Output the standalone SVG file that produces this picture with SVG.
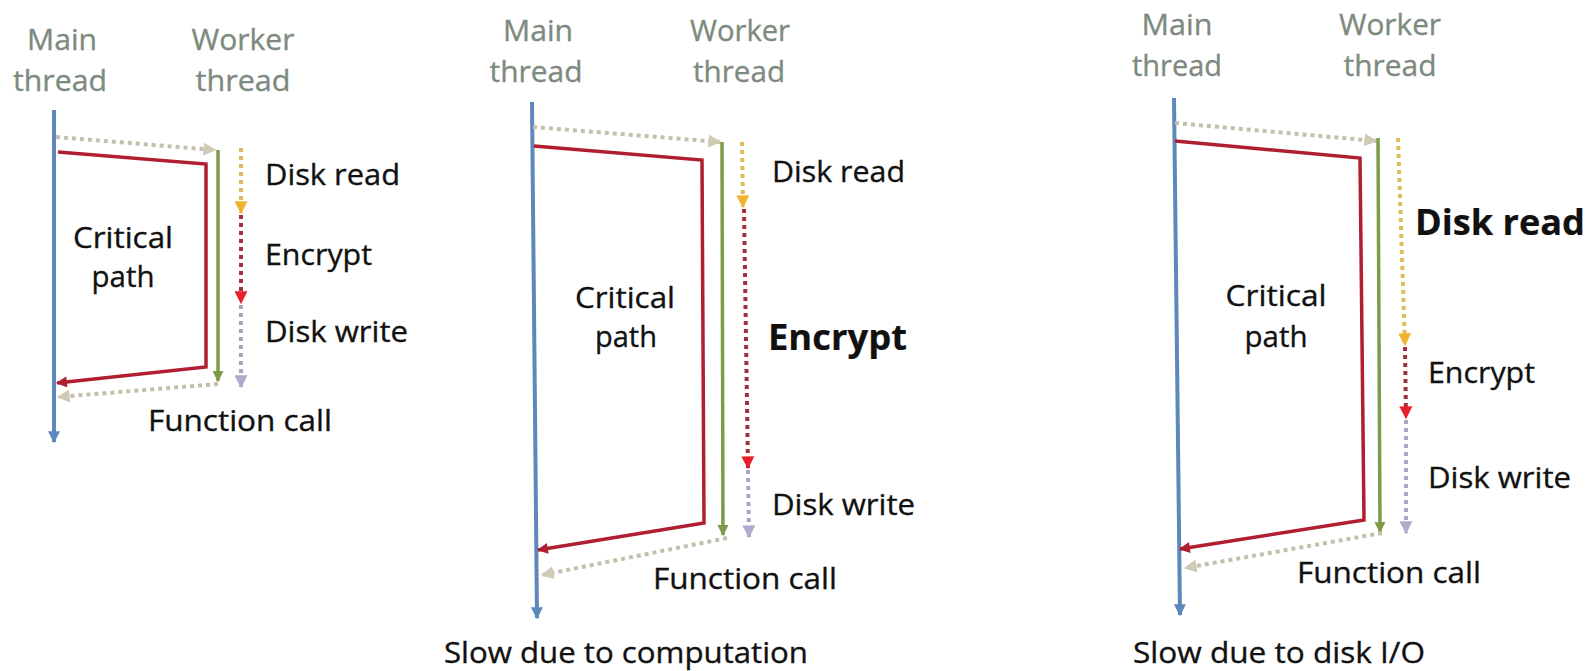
<svg xmlns="http://www.w3.org/2000/svg" width="1589" height="671" viewBox="0 0 1589 671">
<style>
  text { font-family: "Open Sans", "Liberation Sans", sans-serif; font-size: 30px; fill: #111; stroke: #111; stroke-width: 0.35; }
  .hdr { fill: #7d8a7e; stroke: #7d8a7e; text-anchor: middle; }
  .mid { text-anchor: middle; }
  .big { font-weight: bold; font-size: 35px; stroke-width: 0.2; }
  .main { fill: none; stroke: #5d87bd; stroke-width: 4; }
  .crit { fill: none; stroke: #b01e2f; stroke-width: 3.5; stroke-linejoin: miter; }
  .work { fill: none; stroke: #7c9a48; stroke-width: 3.5; }
  .call { fill: none; stroke: #c4bfac; stroke-width: 4; stroke-dasharray: 4 4; }
  .rd { fill: none; stroke: #e0ba5c; stroke-width: 4; stroke-dasharray: 4 4; }
  .enc { fill: none; stroke: #a52e3e; stroke-width: 4; stroke-dasharray: 4 4; }
  .wr { fill: none; stroke: #aaa5bf; stroke-width: 4; stroke-dasharray: 4 4; }
</style>
<defs>
  <marker id="aBlue" viewBox="0 0 10 10" refX="9" refY="5" markerUnits="userSpaceOnUse" markerWidth="13" markerHeight="12" orient="auto"><path d="M0,0 L10,5 L0,10 z" fill="#5d87bd"/></marker>
  <marker id="aRed" viewBox="0 0 10 10" refX="9" refY="5" markerUnits="userSpaceOnUse" markerWidth="12" markerHeight="11" orient="auto"><path d="M0,0 L10,5 L0,10 z" fill="#b01e2f"/></marker>
  <marker id="aGreen" viewBox="0 0 10 10" refX="9" refY="5" markerUnits="userSpaceOnUse" markerWidth="11" markerHeight="11" orient="auto"><path d="M0,0 L10,5 L0,10 z" fill="#7c9a48"/></marker>
  <marker id="aCall" viewBox="0 0 10 10" refX="9" refY="5" markerUnits="userSpaceOnUse" markerWidth="13" markerHeight="13" orient="auto"><path d="M0,0 L10,5 L0,10 z" fill="#cfcab5"/></marker>
  <marker id="aRd" viewBox="0 0 10 10" refX="9" refY="5" markerUnits="userSpaceOnUse" markerWidth="13" markerHeight="13" orient="auto"><path d="M0,0 L10,5 L0,10 z" fill="#f2b330"/></marker>
  <marker id="aEnc" viewBox="0 0 10 10" refX="9" refY="5" markerUnits="userSpaceOnUse" markerWidth="13" markerHeight="13" orient="auto"><path d="M0,0 L10,5 L0,10 z" fill="#e8202c"/></marker>
  <marker id="aWr" viewBox="0 0 10 10" refX="9" refY="5" markerUnits="userSpaceOnUse" markerWidth="13" markerHeight="13" orient="auto"><path d="M0,0 L10,5 L0,10 z" fill="#b5a8cf"/></marker>
</defs>

<!-- Panel 1 -->
<g id="p1-main-thread">
  <text class="hdr" x="62" y="50" textLength="70" lengthAdjust="spacingAndGlyphs">Main</text>
  <text class="hdr" x="60" y="91" textLength="94" lengthAdjust="spacingAndGlyphs">thread</text>
</g>
<g id="p1-worker-thread">
  <text class="hdr" x="243" y="50" textLength="103" lengthAdjust="spacingAndGlyphs">Worker</text>
  <text class="hdr" x="243" y="91" textLength="95" lengthAdjust="spacingAndGlyphs">thread</text>
</g>
<g id="p1-critical-path"><text class="mid" x="123" y="248" textLength="100" lengthAdjust="spacingAndGlyphs">Critical</text><text class="mid" x="123" y="287" textLength="63" lengthAdjust="spacingAndGlyphs">path</text></g>
<g id="p1-disk-read"><text x="265" y="185" textLength="135" lengthAdjust="spacingAndGlyphs">Disk read</text></g>
<g id="p1-encrypt"><text x="265" y="265" textLength="107" lengthAdjust="spacingAndGlyphs">Encrypt</text></g>
<g id="p1-disk-write"><text x="265" y="342" textLength="143" lengthAdjust="spacingAndGlyphs">Disk write</text></g>
<g id="p1-function-call"><text x="148" y="431" textLength="184" lengthAdjust="spacingAndGlyphs">Function call</text></g>

<!-- Panel 2 -->
<g id="p2-main-thread">
  <text class="hdr" x="538" y="41" textLength="70" lengthAdjust="spacingAndGlyphs">Main</text>
  <text class="hdr" x="536" y="82" textLength="93" lengthAdjust="spacingAndGlyphs">thread</text>
</g>
<g id="p2-worker-thread">
  <text class="hdr" x="740" y="41" textLength="100" lengthAdjust="spacingAndGlyphs">Worker</text>
  <text class="hdr" x="739" y="82" textLength="92" lengthAdjust="spacingAndGlyphs">thread</text>
</g>
<g id="p2-critical-path"><text class="mid" x="625" y="308" textLength="100" lengthAdjust="spacingAndGlyphs">Critical</text><text class="mid" x="626" y="347" textLength="62" lengthAdjust="spacingAndGlyphs">path</text></g>
<g id="p2-disk-read"><text x="772" y="182" textLength="133" lengthAdjust="spacingAndGlyphs">Disk read</text></g>
<g id="p2-encrypt"><text class="big" x="768" y="350" textLength="139" lengthAdjust="spacingAndGlyphs">Encrypt</text></g>
<g id="p2-disk-write"><text x="772" y="515" textLength="143" lengthAdjust="spacingAndGlyphs">Disk write</text></g>
<g id="p2-function-call"><text x="653" y="589" textLength="184" lengthAdjust="spacingAndGlyphs">Function call</text></g>
<g id="p2-caption"><text x="444" y="663" textLength="364" lengthAdjust="spacingAndGlyphs">Slow due to computation</text></g>

<!-- Panel 3 -->
<g id="p3-main-thread">
  <text class="hdr" x="1177" y="35" textLength="71" lengthAdjust="spacingAndGlyphs">Main</text>
  <text class="hdr" x="1177" y="76" textLength="90" lengthAdjust="spacingAndGlyphs">thread</text>
</g>
<g id="p3-worker-thread">
  <text class="hdr" x="1390" y="35" textLength="102" lengthAdjust="spacingAndGlyphs">Worker</text>
  <text class="hdr" x="1390" y="76" textLength="93" lengthAdjust="spacingAndGlyphs">thread</text>
</g>
<g id="p3-critical-path"><text class="mid" x="1276" y="306" textLength="101" lengthAdjust="spacingAndGlyphs">Critical</text><text class="mid" x="1276" y="347" textLength="63" lengthAdjust="spacingAndGlyphs">path</text></g>
<g id="p3-disk-read"><text class="big" x="1415" y="235" textLength="170" lengthAdjust="spacingAndGlyphs">Disk read</text></g>
<g id="p3-encrypt"><text x="1428" y="383" textLength="107" lengthAdjust="spacingAndGlyphs">Encrypt</text></g>
<g id="p3-disk-write"><text x="1428" y="488" textLength="143" lengthAdjust="spacingAndGlyphs">Disk write</text></g>
<g id="p3-function-call"><text x="1297" y="583" textLength="184" lengthAdjust="spacingAndGlyphs">Function call</text></g>
<g id="p3-caption"><text x="1133" y="663" textLength="292" lengthAdjust="spacingAndGlyphs">Slow due to disk I/O</text></g>

<g id="connectors">
  <!-- Panel 1 -->
  <path class="main" d="M54,110 L54,442" marker-end="url(#aBlue)"/>
  <path class="call" d="M56,137 L215,150" marker-end="url(#aCall)"/>
  <path class="crit" d="M58,152 L206,164 L206,367 L57,383" marker-end="url(#aRed)"/>
  <path class="work" d="M218,150 L218,381" marker-end="url(#aGreen)"/>
  <path class="rd" d="M241,148 L241,213" marker-end="url(#aRd)"/>
  <path class="enc" d="M241,215 L241,303" marker-end="url(#aEnc)"/>
  <path class="wr" d="M241,305 L241,387" marker-end="url(#aWr)"/>
  <path class="call" d="M218,384 L58,397" marker-end="url(#aCall)"/>
  <!-- Panel 2 -->
  <path class="main" d="M532,102 L537,618" marker-end="url(#aBlue)"/>
  <path class="call" d="M533,127 L720,142" marker-end="url(#aCall)"/>
  <path class="crit" d="M534,146 L702,160 L704,523 L538,550" marker-end="url(#aRed)"/>
  <path class="work" d="M722,142 L723,535" marker-end="url(#aGreen)"/>
  <path class="rd" d="M742,142 L743,207" marker-end="url(#aRd)"/>
  <path class="enc" d="M744,209 L748,468" marker-end="url(#aEnc)"/>
  <path class="wr" d="M748,470 L749,537" marker-end="url(#aWr)"/>
  <path class="call" d="M727,538 L542,575" marker-end="url(#aCall)"/>
  <!-- Panel 3 -->
  <path class="main" d="M1174,98 L1180,615" marker-end="url(#aBlue)"/>
  <path class="call" d="M1175,123 L1376,141" marker-end="url(#aCall)"/>
  <path class="crit" d="M1175,141 L1360,158 L1364,520 L1180,549" marker-end="url(#aRed)"/>
  <path class="work" d="M1378,138 L1380,532" marker-end="url(#aGreen)"/>
  <path class="rd" d="M1398,138 L1405,345" marker-end="url(#aRd)"/>
  <path class="enc" d="M1405,347 L1406,418" marker-end="url(#aEnc)"/>
  <path class="wr" d="M1406,420 L1406,533" marker-end="url(#aWr)"/>
  <path class="call" d="M1382,533 L1185,568" marker-end="url(#aCall)"/>
</g>
</svg>
